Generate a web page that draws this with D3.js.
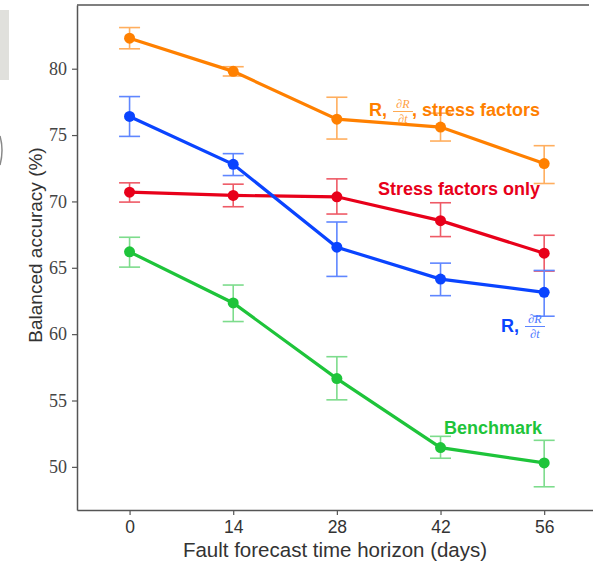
<!DOCTYPE html>
<html>
<head>
<meta charset="utf-8">
<script src="https://cdn.jsdelivr.net/npm/d3@7"></script>
<style>
  body { margin: 0; background: #fff; }
  svg { display: block; }
</style>
</head>
<body>
<div id="chart"></div>
<script>

// Forecast horizons (days) and tick labels
const horizons = [0, 14, 28, 42, 56];
const yTickValues = [50, 55, 60, 65, 70, 75, 80];

// Series: mean balanced accuracy and error bar limits
const benchMean = [66.2, 62.35, 56.65, 51.45, 50.3];
const benchLow  = [65.05, 60.95, 55.05, 50.65, 48.5];
const benchHigh = [67.3, 63.7, 58.3, 52.3, 52.0];

const stressMean = [70.7, 70.45, 70.35, 68.55, 66.1];
const stressLow  = [69.95, 69.6, 69.05, 67.35, 64.75];
const stressHigh = [71.4, 71.3, 71.7, 69.9, 67.45];

const rdrMean = [76.4, 72.8, 66.55, 64.15, 63.15];
const rdrLow  = [74.9, 71.95, 64.35, 62.9, 61.35];
const rdrHigh = [77.9, 73.6, 68.45, 65.35, 64.8];

const allMean = [82.3, 79.8, 76.2, 75.6, 72.85];
const allLow  = [81.5, 79.45, 74.7, 74.55, 71.35];
const allHigh = [83.1, 80.15, 77.85, 76.65, 74.2];

const width = 593, height = 564;
const plot_margin = { top: 5, left: 77, right: -3, bottom: 54 };
const plot_width = width - plot_margin.left - plot_margin.right;
const plot_height = height - plot_margin.top - plot_margin.bottom;

const svg = d3.select('#chart')
  .append('svg')
    .attr('width', width)
    .attr('height', height);

// leftover bits at the left edge of the crop
svg.append('rect')
  .attr('x', 0).attr('y', 10).attr('width', 9).attr('height', 70)
  .attr('fill', '#e0e0dc');
svg.append('path')
  .attr('d', 'M0,136 Q4,150 0,165')
  .attr('fill', 'none').attr('stroke', '#888').attr('stroke-width', 1.5);

const g = svg.append('g')
  .attr('transform', 'translate(' + plot_margin.left + ',' + plot_margin.top + ')');

const x = d3.scaleLinear().domain([-7.1, 63]).range([0, plot_width]);
const y = d3.scaleLinear().domain([46.75, 84.8]).range([plot_height, 0]);

const axisColor = '#555';

// X axis
const xAxis = g.append('g')
  .attr('transform', 'translate(0,' + plot_height + ')')
  .call(d3.axisBottom(x).tickValues(horizons).tickSize(5).tickPadding(6).tickSizeOuter(0));
xAxis.selectAll('text')
  .attr('font-family', '"Liberation Sans", Arial, sans-serif')
  .attr('font-size', 17.5).attr('fill', '#333');

// Y axis
const yAxis = g.append('g')
  .call(d3.axisLeft(y).tickValues(yTickValues).tickSize(5).tickPadding(5).tickSizeOuter(0));
yAxis.selectAll('text')
  .attr('font-family', '"Liberation Serif", "DejaVu Serif", serif')
  .attr('font-size', 18).attr('fill', '#444');

[xAxis, yAxis].forEach(function(a) {
  a.select('.domain').attr('stroke', axisColor).attr('stroke-width', 1.5);
  a.selectAll('.tick line').attr('stroke', axisColor).attr('stroke-width', 1.2);
});

// top spine
g.append('line')
  .attr('x1', 0).attr('x2', 512).attr('y1', 0).attr('y2', 0)
  .attr('stroke', axisColor).attr('stroke-width', 1.5);

// Axis titles
svg.append('text')
  .attr('x', 335).attr('y', 557)
  .attr('text-anchor', 'middle')
  .attr('font-family', '"Liberation Sans", Arial, sans-serif')
  .attr('font-size', 20.5).attr('fill', '#333')
  .text('Fault forecast time horizon (days)');

svg.append('text')
  .attr('transform', 'translate(42,245) rotate(-90)')
  .attr('text-anchor', 'middle')
  .attr('font-family', '"Liberation Sans", Arial, sans-serif')
  .attr('font-size', 19).attr('fill', '#333')
  .text('Balanced accuracy (%)');

// Series drawing
const series = [
  { mean: benchMean, low: benchLow, high: benchHigh, color: '#1ec43a', bar: '#7ddc8c' },
  { mean: stressMean, low: stressLow, high: stressHigh, color: '#e8001a', bar: '#ee5a66' },
  { mean: rdrMean, low: rdrLow, high: rdrHigh, color: '#0a44ff', bar: '#5f86ff' },
  { mean: allMean, low: allLow, high: allHigh, color: '#ff8000', bar: '#ffae5e' }
];

const line = d3.line()
  .x(function(d) { return x(d.h); })
  .y(function(d) { return y(d.m); });

series.forEach(function(s) {
  const pts = horizons.map(function(h, i) {
    return { h: h, m: s.mean[i], lo: s.low[i], hi: s.high[i] };
  });
  const sg = g.append('g');

  // error bars
  const eb = sg.append('g').selectAll('g').data(pts).enter().append('g')
    .attr('stroke', s.bar).attr('stroke-width', 1.6);
  eb.append('line')
    .attr('x1', function(d) { return x(d.h); }).attr('x2', function(d) { return x(d.h); })
    .attr('y1', function(d) { return y(d.lo); }).attr('y2', function(d) { return y(d.hi); });
  eb.append('line')
    .attr('x1', function(d) { return x(d.h) - 10.5; }).attr('x2', function(d) { return x(d.h) + 10.5; })
    .attr('y1', function(d) { return y(d.lo); }).attr('y2', function(d) { return y(d.lo); });
  eb.append('line')
    .attr('x1', function(d) { return x(d.h) - 10.5; }).attr('x2', function(d) { return x(d.h) + 10.5; })
    .attr('y1', function(d) { return y(d.hi); }).attr('y2', function(d) { return y(d.hi); });

  sg.append('path')
    .datum(pts)
    .attr('d', line)
    .attr('fill', 'none')
    .attr('stroke', s.color)
    .attr('stroke-width', 3.2);

  sg.selectAll('circle').data(pts).enter().append('circle')
    .attr('cx', function(d) { return x(d.h); })
    .attr('cy', function(d) { return y(d.m); })
    .attr('r', 5.5)
    .attr('fill', s.color);
});

// Series labels
function plainLabel(txt, xx, yy, color) {
  svg.append('text')
    .attr('x', xx).attr('y', yy)
    .attr('font-family', '"Liberation Sans", Arial, sans-serif')
    .attr('font-weight', 'bold').attr('font-size', 18)
    .attr('fill', color)
    .text(txt);
}

function fraction(cx, barY, color) {
  const f = svg.append('g')
    .attr('fill', color)
    .attr('font-family', '"Liberation Serif", "DejaVu Serif", serif')
    .attr('font-style', 'italic').attr('font-size', 12)
    .attr('text-anchor', 'middle');
  f.append('text').attr('x', cx).attr('y', barY - 3.5).text('∂R');
  f.append('text').attr('x', cx).attr('y', barY + 11.5).text('∂t');
  svg.append('line')
    .attr('x1', cx - 10).attr('x2', cx + 10)
    .attr('y1', barY).attr('y2', barY)
    .attr('stroke', color).attr('stroke-width', 0.9);
}

plainLabel('R,', 369, 116, '#ff8000');
fraction(403, 111.5, '#ffa040');
plainLabel(', stress factors', 412, 116, '#ff8000');

plainLabel('Stress factors only', 378, 195, '#e8001a');

plainLabel('R,', 501, 332, '#0a44ff');
fraction(535, 326.5, '#4a76ff');

plainLabel('Benchmark', 444, 434, '#1ec43a');

</script>
</body>
</html>
